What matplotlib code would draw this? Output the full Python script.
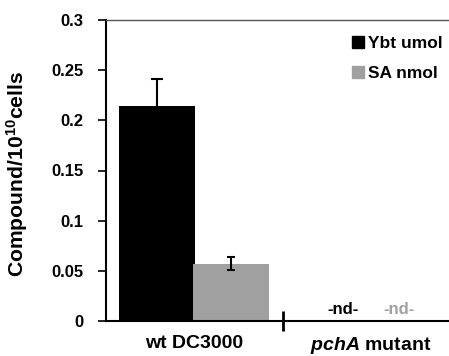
import matplotlib
matplotlib.use("Agg")
import matplotlib.pyplot as plt
from matplotlib.patches import Patch

# data
groups = ["wt DC3000", "$\\it{pchA}$ mutant"]
series = ["Ybt umol", "SA nmol"]
ybt = [0.214, 0.0]
ybt_err = [0.027, 0.0]
sa = [0.057, 0.0]
sa_err = [0.0065, 0.0]
detected = [True, False]
yticks = [0, 0.05, 0.1, 0.15, 0.2, 0.25, 0.3]
ylabels = ["0", "0.05", "0.1", "0.15", "0.2", "0.25", "0.3"]

plt.rcParams["font.family"] = "Liberation Sans"
plt.rcParams["font.weight"] = "bold"
plt.rcParams["axes.labelweight"] = "bold"
plt.rcParams["mathtext.fontset"] = "custom"
plt.rcParams["mathtext.rm"] = "Liberation Sans:bold"
plt.rcParams["mathtext.it"] = "Liberation Sans:italic:bold"
plt.rcParams["mathtext.bf"] = "Liberation Sans:bold"
plt.rcParams["mathtext.default"] = "rm"

black = "#000000"
gray = "#a0a0a0"

fig = plt.figure(figsize=(4.49, 3.56), dpi=100)
ax = fig.add_axes([106 / 449, 35 / 356, 353 / 449, 301 / 356])

x = list(range(len(groups)))
w = 0.43
off = 0.21
for i in x:
    if detected[i]:
        ax.bar(i - off, ybt[i], w, color=black, zorder=2)
        ax.errorbar(i - off, ybt[i], yerr=ybt_err[i], fmt="none", ecolor=black,
                    elinewidth=1.5, capsize=4, capthick=1.5, zorder=1)
        ax.bar(i + off, sa[i], w, color=gray, zorder=2)
        ax.errorbar(i + off, sa[i], yerr=sa_err[i], fmt="none", ecolor=black,
                    elinewidth=1.5, capsize=3, capthick=1.5, zorder=3)
    else:
        ax.text(i - off + 0.05, 0.011, "-nd-", ha="center", va="center",
                fontsize=12, fontweight="bold", color=black)
        ax.text(i + off - 0.05, 0.011, "-nd-", ha="center", va="center",
                fontsize=12, fontweight="bold", color=gray)

ax.set_xlim(-0.5, 1.5)
ax.set_ylim(0, 0.3)
ax.set_yticks(yticks)
ax.set_yticklabels(ylabels, fontweight="bold")
ax.tick_params(axis="y", direction="out", length=6, width=1.2, labelsize=12, pad=10)

ax.set_xticks(x)
ax.set_xticklabels(groups, fontsize=14, fontweight="bold")
ax.tick_params(axis="x", which="major", length=0, pad=10)
ax.set_xticks([0.5], minor=True)
ax.tick_params(axis="x", which="minor", direction="inout", length=15, width=2)

for s in ["left", "bottom"]:
    ax.spines[s].set_linewidth(1.5)
ax.spines["top"].set_color("#555555")
ax.spines["top"].set_linewidth(1)

ax.set_ylabel("Compound/10$^{10}$cells", fontsize=15.2, fontweight="bold")
ax.yaxis.set_label_coords(-0.215, 0.49)

handles = [Patch(color=black), Patch(color=gray)]
fig.legend(handles, series, loc="upper left", bbox_to_anchor=(352 / 449, 1 - 36 / 356),
           frameon=False, prop={"size": 12.5, "weight": "bold"}, handlelength=0.7,
           handleheight=0.7, handletextpad=0.25, labelspacing=0.85, borderpad=0,
           borderaxespad=0)

fig.savefig("out.png", dpi=100)
